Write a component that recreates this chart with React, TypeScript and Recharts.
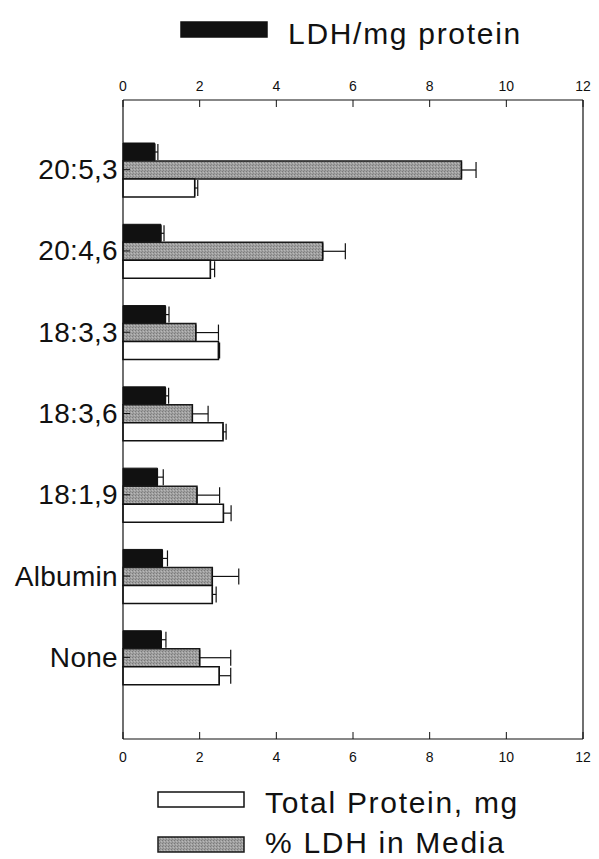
import React from "react"
import { BarChart, Bar, XAxis, YAxis, ErrorBar, ReferenceLine } from "recharts"

const CATEGORIES = ["20:5,3", "20:4,6", "18:3,3", "18:3,6", "18:1,9", "Albumin", "None"]
const LDH_PER_MG = [0.83, 0.99, 1.11, 1.11, 0.9, 1.03, 1.0]
const LDH_PER_MG_ERR = [0.08, 0.08, 0.09, 0.08, 0.15, 0.13, 0.12]
const LDH_MEDIA = [8.83, 5.21, 1.9, 1.81, 1.93, 2.33, 2.0]
const LDH_MEDIA_ERR = [0.38, 0.59, 0.59, 0.41, 0.59, 0.69, 0.81]
const TOTAL_PROTEIN = [1.87, 2.28, 2.49, 2.61, 2.62, 2.33, 2.51]
const TOTAL_PROTEIN_ERR = [0.08, 0.11, 0.03, 0.08, 0.2, 0.1, 0.3]
const X_TICKS = [0, 2, 4, 6, 8, 10, 12]

const FONT = "'Liberation Sans', Arial, Helvetica, sans-serif"

const data = CATEGORIES.map((name, i) => ({
  name,
  ldh: LDH_PER_MG[i],
  ldhErr: [0, LDH_PER_MG_ERR[i]],
  media: LDH_MEDIA[i],
  mediaErr: [0, LDH_MEDIA_ERR[i]],
  protein: TOTAL_PROTEIN[i],
  proteinErr: [0, TOTAL_PROTEIN_ERR[i]],
}))

// stippled gray used for the "% LDH in Media" bars and its legend swatch
const Stipple = ({ id }: { id: string }) => (
  <pattern id={id} width="3" height="3" patternUnits="userSpaceOnUse">
    <rect width="3" height="3" fill="#a0a0a0" />
    <rect x="0" y="0" width="1" height="1" fill="#7a7a7a" />
    <rect x="2" y="1" width="1" height="1" fill="#bababa" />
    <rect x="1" y="2" width="1" height="1" fill="#878787" />
  </pattern>
)

const TopTick = (props: any) => {
  const { x, y, payload } = props
  return (
    <g>
      <line x1={x} x2={x} y1={y} y2={y + 7} stroke="#111" strokeWidth={1} />
      <text x={x} y={y - 9} textAnchor="middle" fontSize={14} fontFamily={FONT} fill="#111">
        {payload.value}
      </text>
    </g>
  )
}

const BottomTick = (props: any) => {
  const { x, y, payload } = props
  return (
    <g>
      <line x1={x} x2={x} y1={y} y2={y - 7} stroke="#111" strokeWidth={1} />
      <text x={x} y={y + 23} textAnchor="middle" fontSize={14} fontFamily={FONT} fill="#111">
        {payload.value}
      </text>
    </g>
  )
}

const CategoryTick = (props: any) => {
  const { x, y, payload } = props
  return (
    <g>
      <line x1={x} x2={x + 7} y1={y} y2={y} stroke="#111" strokeWidth={1} />
      <text
        x={x - 5}
        y={y}
        textAnchor="end"
        dominantBaseline="central"
        fontSize={28}
        letterSpacing={0.3}
        fontFamily={FONT}
        fill="#111"
      >
        {payload.value}
      </text>
    </g>
  )
}

const LegendEntry = ({ x, y, fill, stroke, label, baseline }: any) => (
  <g>
    <rect x={x} y={y} width={86} height={15} fill={fill} stroke={stroke} strokeWidth={1.5} />
    <text x={x + 107} y={baseline} fontSize={30} letterSpacing={1.7} fontFamily={FONT} fill="#111">
      {label}
    </text>
  </g>
)

export default function App() {
  return (
    <div style={{ position: "absolute", left: 0, top: 0, width: 599, height: 859, background: "#fff", overflow: "hidden" }}>
      <BarChart
        width={599}
        height={859}
        data={data}
        layout="vertical"
        barSize={18}
        barGap={0}
        margin={{ top: 70, right: 16, bottom: 90, left: 8 }}
      >
        <defs>
          <Stipple id="stipple" />
        </defs>
        <XAxis
          xAxisId="top"
          orientation="top"
          type="number"
          domain={[0, 12]}
          ticks={X_TICKS}
          height={30}
          tickSize={0}
          tickMargin={0}
          tick={<TopTick />}
          axisLine={{ stroke: "#111", strokeWidth: 1.2 }}
          tickLine={false}
        />
        <XAxis
          xAxisId="bottom"
          orientation="bottom"
          type="number"
          domain={[0, 12]}
          ticks={X_TICKS}
          height={30}
          tickSize={0}
          tickMargin={0}
          tick={<BottomTick />}
          axisLine={{ stroke: "#111", strokeWidth: 1.2 }}
          tickLine={false}
        />
        <YAxis
          type="category"
          dataKey="name"
          width={115}
          padding={{ top: 29, bottom: 41 }}
          tickSize={0}
          tickMargin={0}
          tick={<CategoryTick />}
          axisLine={{ stroke: "#111", strokeWidth: 1.2 }}
          tickLine={false}
        />
        <ReferenceLine xAxisId="top" x={12} stroke="#111" strokeWidth={1.2} />
        <Bar xAxisId="top" dataKey="ldh" fill="#111" stroke="#111" strokeWidth={1} isAnimationActive={false}>
          <ErrorBar dataKey="ldhErr" direction="x" width={8} stroke="#111" strokeWidth={1.2} />
        </Bar>
        <Bar xAxisId="top" dataKey="media" fill="url(#stipple)" stroke="#1a1a1a" strokeWidth={1.5} isAnimationActive={false}>
          <ErrorBar dataKey="mediaErr" direction="x" width={8} stroke="#111" strokeWidth={1.2} />
        </Bar>
        <Bar xAxisId="bottom" dataKey="protein" fill="#fff" stroke="#111" strokeWidth={1.5} isAnimationActive={false}>
          <ErrorBar dataKey="proteinErr" direction="x" width={8} stroke="#111" strokeWidth={1.2} />
        </Bar>
      </BarChart>
      <svg
        width={599}
        height={859}
        style={{ position: "absolute", left: 0, top: 0, pointerEvents: "none" }}
      >
        <defs>
          <Stipple id="stippleLegend" />
        </defs>
        <LegendEntry x={181} y={22} baseline={44} fill="#111" stroke="#111" label="LDH/mg protein" />
        <LegendEntry x={158} y={792} baseline={813} fill="#fff" stroke="#111" label="Total Protein, mg" />
        <LegendEntry x={158} y={837} baseline={853} fill="url(#stippleLegend)" stroke="#1a1a1a" label="% LDH in Media" />
      </svg>
    </div>
  )
}
